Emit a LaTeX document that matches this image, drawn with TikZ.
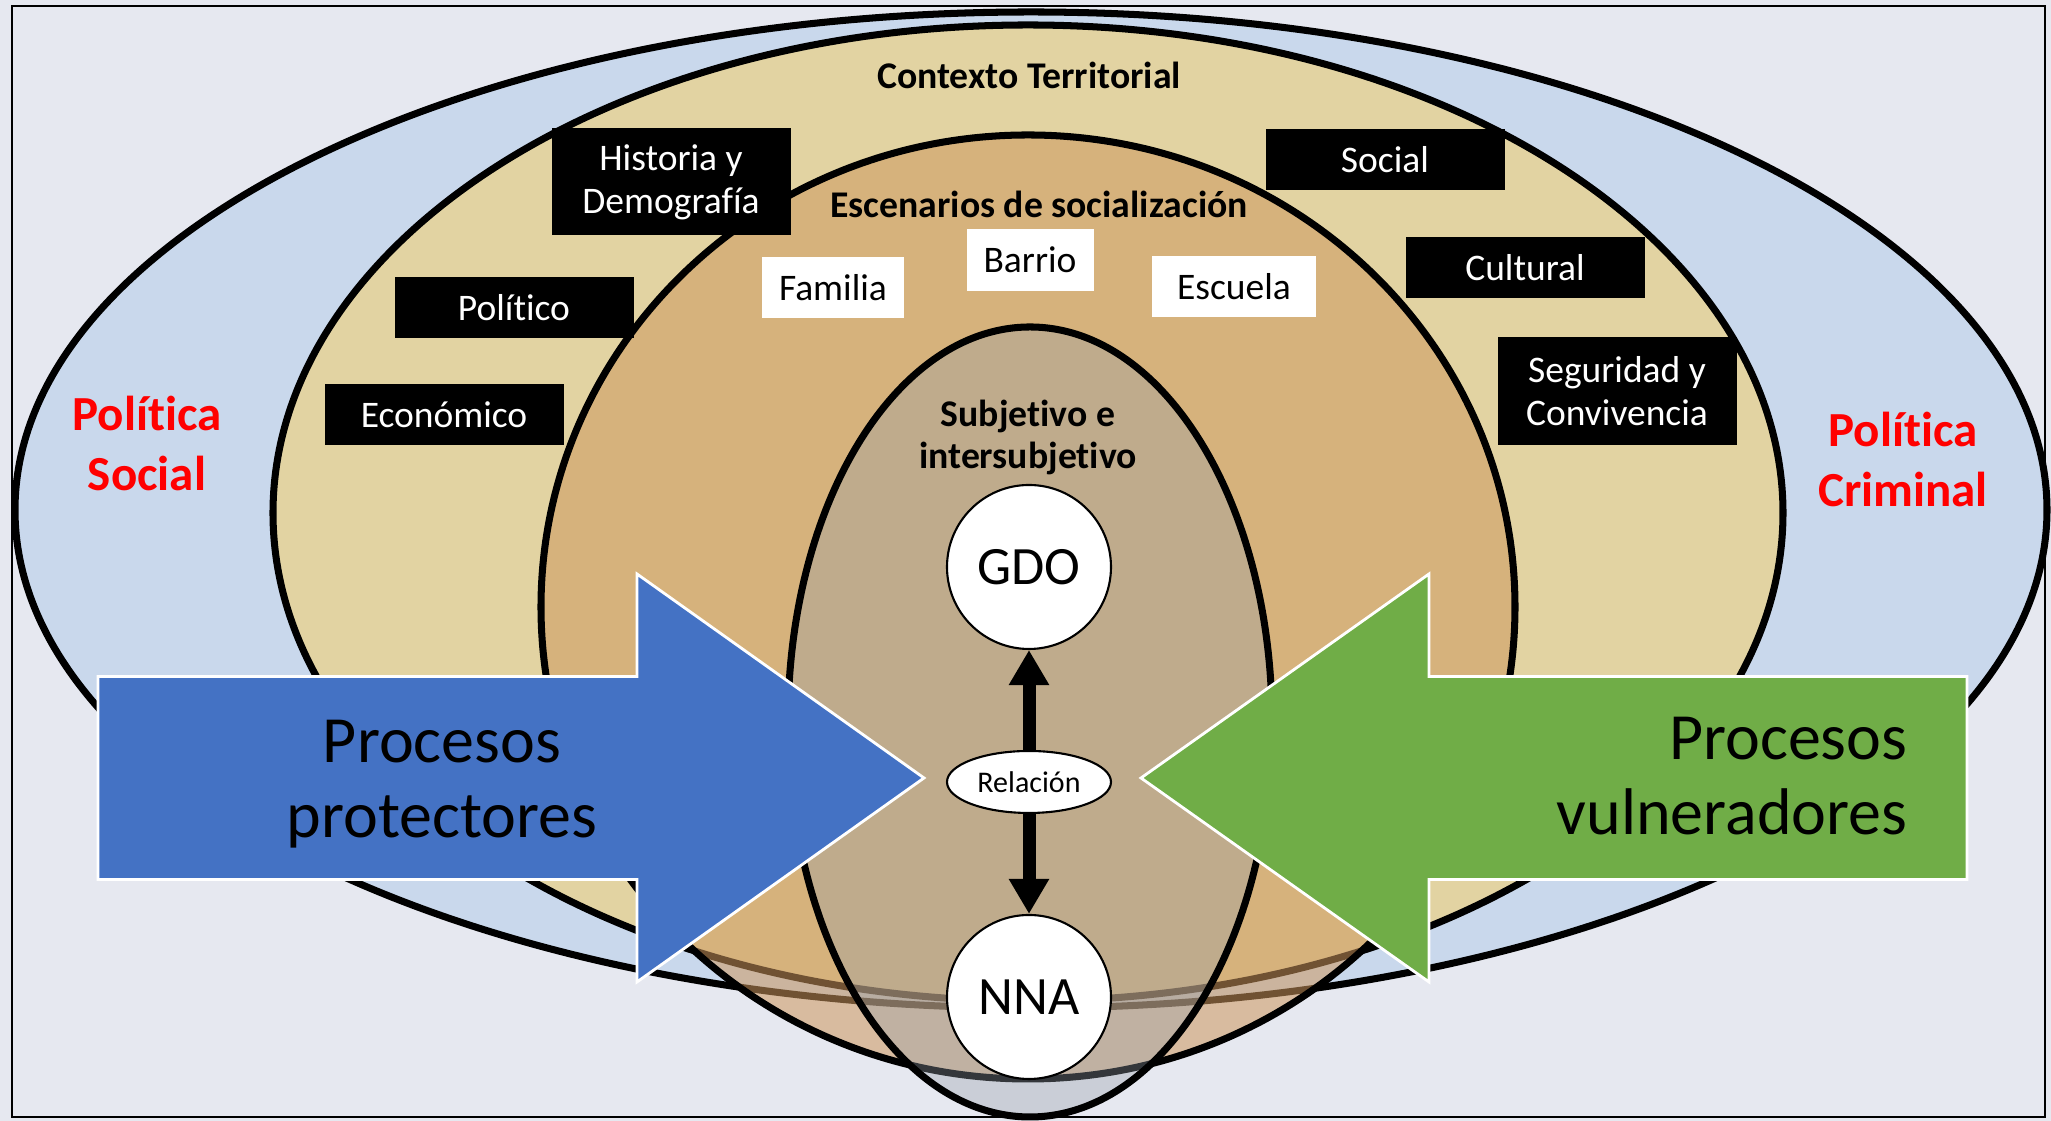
\documentclass[tikz,border=0pt]{standalone}
\usepackage{fontspec}
\setmainfont{Carlito}[Ligatures=NoCommon]
\usepackage{xcolor}
\usepackage{tikz}
\usetikzlibrary{shapes.geometric,arrows.meta}
\definecolor{backcolor}{HTML}{E6E8F0}
\definecolor{politicacolor}{HTML}{C9D8EC}
\definecolor{contextocolor}{HTML}{E2D3A2}
\definecolor{escenarioscolor}{HTML}{CD975E}
\definecolor{subjetivocolor}{HTML}{96A0AA}
\definecolor{protectcolor}{HTML}{4472C4}
\definecolor{vulnercolor}{HTML}{70AD47}
\tikzset{
  ring/.style={draw=black, line width=2pt},
  darkbox/.style={draw=none, rectangle, fill=black, text=white, inner sep=0pt, minimum width=2.39cm, align=center, font=\fontsize{0.375cm}{0.43cm}\selectfont},
  lightbox/.style={draw=none, rectangle, fill=white, text=black, inner sep=0pt, minimum height=0.61cm, font=\fontsize{0.375cm}{0.43cm}\selectfont},
  ringlabel/.style={align=center, inner sep=0pt, font=\bfseries\fontsize{0.377cm}{0.42cm}\selectfont},
  politicalabel/.style={align=center, inner sep=0pt, text=red, font=\bfseries\fontsize{0.49cm}{0.6cm}\selectfont},
  actor/.style={draw, circle, line width=0.6pt, fill=white, minimum size=1.64cm, inner sep=0pt, font=\fontsize{0.54cm}{0.6cm}\selectfont},
  bigarrow/.style={draw=white, line width=0.8pt},
  processtext/.style={align=center, inner sep=0pt, font=\fontsize{0.66cm}{0.75cm}\selectfont},
  link/.style={line width=0.13cm, -{Triangle[length=0.35cm, width=0.38cm]}}
}

\begin{document}
\begin{tikzpicture}%
\useasboundingbox (0, 0) rectangle (20.51, 11.21);%
\fill[backcolor] (0, 0) rectangle (20.51, 11.21);%
\draw[ring, fill=politicacolor] (10.31, 6.11) ellipse [x radius=10.16, y radius=4.98];%
\draw[ring, fill=contextocolor] (10.28, 6.08) ellipse [x radius=7.55, y radius=4.88];%
\draw[ring, fill=escenarioscolor, fill opacity=0.55] (10.28, 5.14) ellipse [x radius=4.87, y radius=4.72];%
\draw[ring, fill=subjetivocolor, fill opacity=0.35] (10.30, 3.99) ellipse [x radius=2.42, y radius=3.95];%
\node[politicalabel] (social) at (1.47, 6.77) {Política\\Social};%
\node[politicalabel] (criminal) at (19.03, 6.61) {Política\\Criminal};%
\node[ringlabel] (contexto) at (10.29, 10.46) {Contexto Territorial};%
\node[ringlabel] (escenarios) at (10.39, 9.17) {Escenarios de socialización};%
\node[ringlabel] (subjetivo) at (10.28, 6.84) {Subjetivo e\\intersubjetivo};%
\node[darkbox, minimum height=1.07cm] (historia) at (6.71, 9.39) {Historia y\\Demografía};%
\node[darkbox, minimum height=0.61cm] (politico) at (5.14, 8.13) {Político};%
\node[darkbox, minimum height=0.61cm] (economico) at (4.44, 7.06) {Económico};%
\node[darkbox, minimum height=0.61cm] (socialbox) at (13.85, 9.61) {Social};%
\node[darkbox, minimum height=0.61cm] (cultural) at (15.25, 8.53) {Cultural};%
\node[darkbox, minimum height=1.08cm] (seguridad) at (16.17, 7.30) {Seguridad y\\Convivencia};%
\node[lightbox, minimum width=1.42cm] (familia) at (8.33, 8.33) {Familia};%
\node[lightbox, minimum width=1.27cm, minimum height=0.62cm] (barrio) at (10.30, 8.61) {Barrio};%
\node[lightbox, minimum width=1.64cm] (escuela) at (12.34, 8.34) {Escuela};%
\node[actor] (gdo) at (10.29, 5.54) {GDO};%
\node[draw, ellipse, line width=0.6pt, fill=white, minimum width=1.64cm, minimum height=0.62cm, inner sep=0pt, font=\fontsize{0.30cm}{0.36cm}\selectfont] (relacion) at (10.29, 3.39) {Relación};%
\node[actor] (nna) at (10.29, 1.24) {NNA};%
\draw[link] (relacion) -- (gdo);%
\draw[link] (relacion) -- (nna);%
\draw[bigarrow, fill=protectcolor] (0.98, 4.445) -- (6.37, 4.445) -- (6.37, 5.47) -- (9.24, 3.43) -- (6.37, 1.39) -- (6.37, 2.415) -- (0.98, 2.415) -- cycle;%
\draw[bigarrow, fill=vulnercolor] (19.67, 4.445) -- (14.29, 4.445) -- (14.29, 5.47) -- (11.41, 3.43) -- (14.29, 1.39) -- (14.29, 2.415) -- (19.67, 2.415) -- cycle;%
\node[processtext] (protectores) at (4.42, 3.37) {Procesos\\protectores};%
\node[processtext, align=right, anchor=east] (vulneradores) at (19.08, 3.45) {Procesos\\vulneradores};%
\draw[line width=0.6pt] (0.12, 0.04) rectangle (20.45, 11.15);%
\end{tikzpicture}
\end{document}
